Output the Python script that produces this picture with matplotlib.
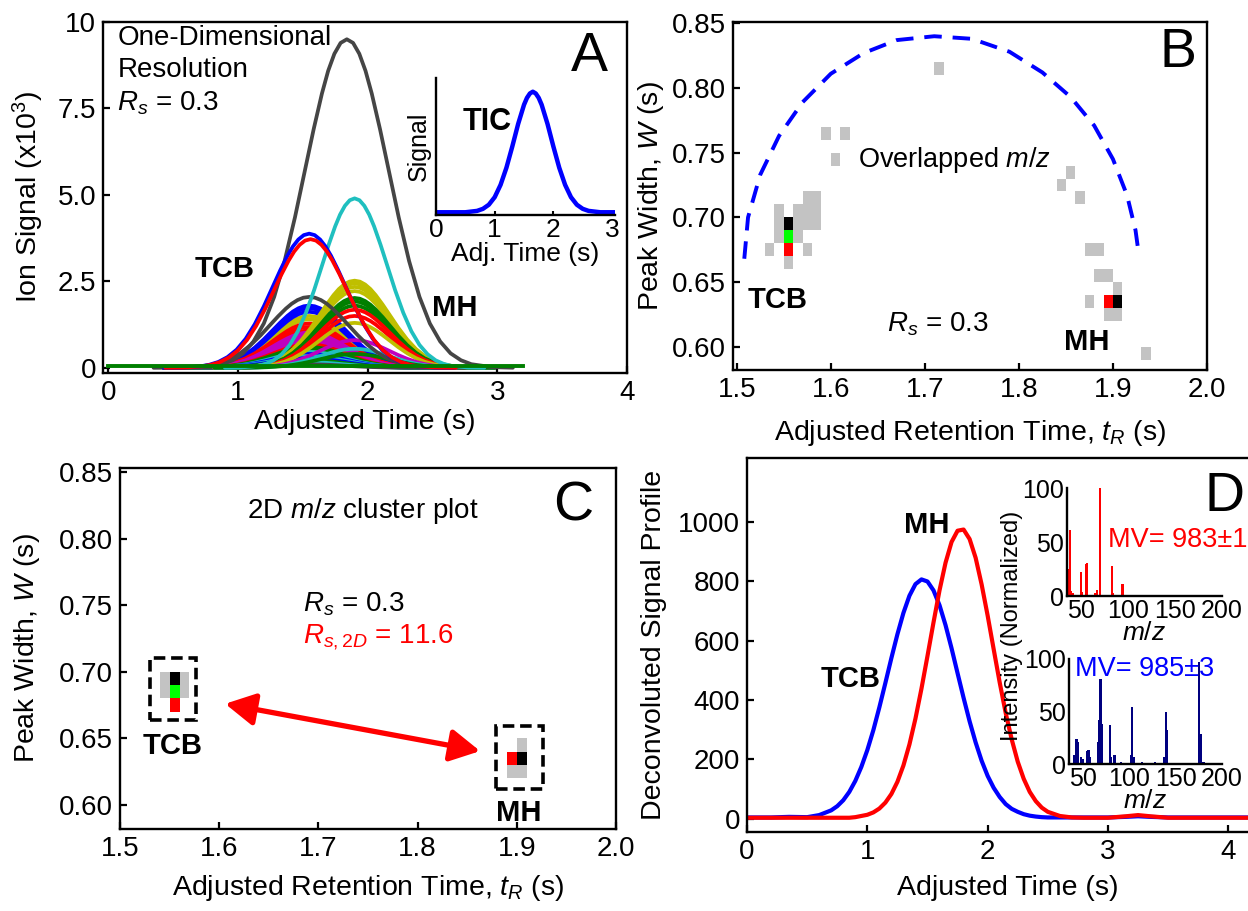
import numpy as np
import matplotlib
matplotlib.use("Agg")
import matplotlib.pyplot as plt

plt.rcParams.update({
    "font.family": ["Liberation Sans", "DejaVu Sans"],
    "mathtext.fontset": "custom",
    "mathtext.rm": "Liberation Sans",
    "mathtext.it": "Liberation Sans:italic",
    "mathtext.bf": "Liberation Sans:bold",
    "axes.linewidth": 1.7,
})

# ---------------- data ----------------
# panel A: common peak profile (sigma units)
PROFILE_Z = [-4.0, -3.5, -3.0, -2.75, -2.5, -2.25, -2.0, -1.75, -1.5, -1.25, -1.0, -0.8, -0.6, -0.45, -0.3, -0.15, 0.0,
             0.15, 0.3, 0.45, 0.6, 0.8, 1.0, 1.25, 1.5, 1.75, 2.0, 2.25, 2.5, 2.75, 3.0, 3.5, 4.0]
PROFILE = [0.0003, 0.002, 0.011, 0.023, 0.044, 0.080, 0.135, 0.216, 0.325, 0.458, 0.607, 0.726, 0.835, 0.904, 0.956, 0.989, 1.0,
           0.989, 0.956, 0.904, 0.835, 0.726, 0.607, 0.458, 0.325, 0.216, 0.135, 0.080, 0.044, 0.023, 0.011, 0.002, 0.0003]

# ion traces: apex time, apex height (x10^3), width (s), colour code
A_CENTERS = [1.55] * 22 + [1.90] * 13 + [1.55, 1.84, 1.90, 1.55, 1.56]
A_HEIGHTS = [1.50, 1.40, 1.80, 1.72, 1.62, 1.28, 1.18, 1.08, 1.02, 0.94, 0.86, 0.76, 0.68, 0.60, 0.52, 0.46,
             0.40, 0.34, 0.28, 0.22, 0.16, 0.10,
             2.52, 2.44, 2.34, 2.22, 2.02, 1.92, 1.80, 1.68, 1.50, 1.30, 0.80, 0.55, 0.40,
             2.05, 9.50, 4.90, 3.88, 3.72]
A_WIDTHS = [0.28] * 22 + [0.27] * 13 + [0.30, 0.32, 0.25, 0.28, 0.28]
A_COLORS = ["y", "y", "b", "b", "b", "r", "r", "r", "m", "m", "m", "m", "r", "g", "g", "c", "b", "c", "b", "g", "c", "k",
            "y", "y", "y", "y", "g", "g", "g", "r", "r", "y", "m", "c", "g",
            "k", "k", "c", "b", "r"]
A_BASE_T = [0.0, 3.2]
A_BASE_Y = [0.05, 0.05]

TIC_T = [0.0, 0.5, 0.7, 0.8, 0.9, 1.0, 1.1, 1.2, 1.3, 1.4, 1.5, 1.55, 1.6, 1.65, 1.7, 1.75, 1.8, 1.9,
         2.0, 2.1, 2.2, 2.3, 2.4, 2.5, 2.6, 2.8, 3.05]
TIC_Y = [0.02, 0.02, 0.03, 0.045, 0.075, 0.13, 0.22, 0.345, 0.50, 0.665, 0.805, 0.855, 0.887, 0.90, 0.887, 0.855,
         0.805, 0.665, 0.50, 0.345, 0.22, 0.13, 0.075, 0.045, 0.03, 0.02, 0.02]

# panel B: m/z clusters (tR, W) on a 0.01 s grid
B_GRAY_TR = [1.535, 1.545, 1.545, 1.545, 1.555, 1.565, 1.565, 1.565, 1.575, 1.575, 1.575, 1.575, 1.585, 1.585, 1.585,
             1.595, 1.615, 1.605, 1.715, 1.855, 1.845, 1.865, 1.875, 1.885, 1.885, 1.895, 1.905, 1.875, 1.895, 1.905, 1.935]
B_GRAY_W = [0.675, 0.705, 0.695, 0.685, 0.665, 0.705, 0.695, 0.685, 0.715, 0.705, 0.695, 0.675, 0.715, 0.705, 0.695,
            0.765, 0.765, 0.745, 0.815, 0.735, 0.725, 0.715, 0.675, 0.675, 0.655, 0.655, 0.645, 0.635, 0.625, 0.625, 0.595]
KEY_TR = [1.555, 1.555, 1.555, 1.895, 1.905]
KEY_W = [0.695, 0.685, 0.675, 0.635, 0.635]
KEY_COLORS = ["#000000", "#00ff00", "#ff0000", "#ff0000", "#000000"]
ARC_TR = [1.508, 1.512, 1.525, 1.545, 1.570, 1.600, 1.635, 1.670, 1.710, 1.750, 1.790, 1.825, 1.855, 1.880,
          1.900, 1.915, 1.924, 1.927]
ARC_W = [0.668, 0.700, 0.733, 0.763, 0.789, 0.811, 0.827, 0.837, 0.840, 0.838, 0.828, 0.812, 0.793, 0.771,
         0.745, 0.717, 0.690, 0.674]

# panel C: clusters after 2D selection
C_GRAY_TR = [1.545, 1.545, 1.565, 1.565, 1.905, 1.895, 1.905]
C_GRAY_W = [0.695, 0.685, 0.695, 0.685, 0.645, 0.625, 0.625]
C_BOX_TR = [1.530, 1.879]
C_BOX_W = [0.6635, 0.612]
C_BOX_SIZE = [0.047, 0.047]
ARROW_TR = [1.606, 1.863]
ARROW_W = [0.676, 0.6405]

# panel D: deconvoluted profiles
D_TIME = [0.0, 0.2, 0.35, 0.5, 0.6, 0.7, 0.75, 0.8, 0.85, 0.9, 0.95, 1.0, 1.05, 1.1, 1.15, 1.2, 1.25, 1.3, 1.35,
          1.4, 1.45, 1.5, 1.55, 1.6, 1.65, 1.7, 1.75, 1.8, 1.85, 1.9, 1.95, 2.0, 2.05, 2.1, 2.15, 2.2, 2.25, 2.3,
          2.35, 2.4, 2.45, 2.5, 2.6, 2.7, 2.8, 3.0, 3.15, 3.25, 3.35, 3.5, 3.8, 4.1, 4.4]
D_TCB = [4, 4, 6, 5, 12, 28, 42, 62, 90, 127, 174, 231, 298, 375, 457, 541, 621, 693, 751,
         790, 806, 799, 769, 719, 652, 574, 490, 407, 328, 257, 195, 144, 104, 73, 49, 33, 23, 15,
         10, 7, 5, 4, 4, 4, 4, 4, 6, 8, 6, 4, 4, 4, 4]
D_MH = [3, 3, 3, 3, 3, 3, 3, 3, 3, 5, 9, 13, 21, 34, 54, 83, 124, 179, 250,
        337, 438, 548, 661, 769, 862, 932, 970, 974, 942, 879, 789, 684, 571, 459, 356, 267, 192, 134,
        90, 59, 37, 23, 9, 4, 3, 3, 8, 12, 8, 3, 3, 3, 3]

MH_MZ = [37, 38, 39, 41, 50, 51, 55, 56, 65, 67, 70, 83, 84, 94, 95]
MH_INT = [25, 61, 5, 3, 22, 4, 30, 31, 3, 6, 100, 28, 3, 11, 5]
TCB_MZ = [41, 43, 45, 48, 50, 54, 56, 58, 66, 67, 69, 70, 79, 80, 84, 85, 91, 102, 103, 105, 114, 128,
          138, 140, 141, 175, 177, 180]
TCB_INT = [9, 24, 21, 7, 5, 12, 13, 7, 21, 42, 81, 38, 37, 7, 9, 7, 2, 9, 54, 7, 2, 2,
           7, 50, 32, 97, 29, 2]

COLORS = {"b": "#0000ff", "r": "#ff0000", "g": "#007f00", "c": "#1fbfbf", "m": "#bf00bf", "y": "#bfbf00", "k": "#454545"}

TICK_FS = 20
LABEL_FS = 20.5
TEXT_FS = 20

W, H = 1248, 911
fig = plt.figure(figsize=(W / 100, H / 100), dpi=100)


def px_axes(left, top, right, bottom):
    return fig.add_axes([left / W, 1 - bottom / H, (right - left) / W, (bottom - top) / H])


def style_main(ax):
    ax.tick_params(direction="in", length=5, width=1.6, labelsize=TICK_FS, top=False, right=False, pad=5)
    for s in ax.spines.values():
        s.set_linewidth(1.7)


def style_inset(ax, labelsize):
    ax.patch.set_visible(False)
    for s in ["top", "right"]:
        ax.spines[s].set_visible(False)
    for s in ["bottom", "left"]:
        ax.spines[s].set_linewidth(1.7)
    ax.tick_params(direction="in", length=0, labelsize=labelsize, pad=2)


# ---------------- A ----------------
axA = px_axes(103, 22, 627, 373)
z = np.array(PROFILE_Z)
prof = np.array(PROFILE)
for c, h, w, col in zip(A_CENTERS, A_HEIGHTS, A_WIDTHS, A_COLORS):
    axA.plot(c + w * z, h * prof, color=COLORS[col], lw=2.7, solid_capstyle="round")
axA.plot(A_BASE_T, A_BASE_Y, color=COLORS["g"], lw=2.8)
axA.set_xlim(-0.04, 4.0)
axA.set_ylim(-0.15, 10)
axA.set_xticks([0, 1, 2, 3, 4])
axA.set_yticks([0, 2.5, 5, 7.5, 10])
axA.set_yticklabels(["0", "2.5", "5.0", "7.5", "10"])
style_main(axA)
axA.set_xlabel("Adjusted Time (s)", fontsize=LABEL_FS, labelpad=2)
axA.set_ylabel("Ion Signal (x10$^3$)", fontsize=LABEL_FS, labelpad=8)
axA.text(0.07, 9.9, "One-Dimensional\nResolution\n$R_s$ = 0.3", fontsize=TEXT_FS, va="top", ha="left",
         linespacing=1.3)
axA.text(3.71, 9.0, "A", fontsize=40, ha="center", va="center")
axA.text(0.90, 2.85, "TCB", fontsize=21, fontweight="bold", ha="center", va="center")
axA.text(2.67, 1.72, "MH", fontsize=21, fontweight="bold", ha="center", va="center")

axT = px_axes(436, 78, 615, 215)
axT.plot(TIC_T, TIC_Y, color="#0000ff", lw=3.2)
axT.set_xlim(0, 3.05)
axT.set_ylim(0, 1)
axT.set_xticks([0, 1, 2, 3])
axT.set_yticks([])
style_inset(axT, 19)
axT.tick_params(axis="x", length=3, width=1.5)
axT.set_ylabel("Signal", fontsize=18, labelpad=4)
axT.set_xlabel("Adj. Time (s)", fontsize=19, labelpad=0)
axT.text(0.87, 0.68, "TIC", fontsize=22, fontweight="bold", ha="center", va="center")

# ---------------- B ----------------
axB = px_axes(733, 22, 1207, 370)
axB.bar(B_GRAY_TR, [0.01] * len(B_GRAY_TR), bottom=np.array(B_GRAY_W) - 0.005, width=0.01, color="#c3c3c3", linewidth=0)
axB.bar(KEY_TR, [0.01] * len(KEY_TR), bottom=np.array(KEY_W) - 0.005, width=0.01, color=KEY_COLORS, linewidth=0)
axB.plot(ARC_TR, ARC_W, color="#0000ff", lw=2.8, dashes=(4.5, 2.8))
axB.set_xlim(1.496, 2.0)
axB.set_ylim(0.582, 0.851)
axB.set_xticks([1.5, 1.6, 1.7, 1.8, 1.9, 2.0])
axB.set_xticklabels(["1.5", "1.6", "1.7", "1.8", "1.9", "2.0"])
axB.set_yticks([0.60, 0.65, 0.70, 0.75, 0.80, 0.85])
axB.set_yticklabels(["0.60", "0.65", "0.70", "0.75", "0.80", "0.85"])
style_main(axB)
axB.set_xlabel("Adjusted Retention Time, $t_R$ (s)", fontsize=LABEL_FS, labelpad=11)
axB.set_ylabel("Peak Width, $W$ (s)", fontsize=LABEL_FS, labelpad=4)
axB.text(1.629, 0.744, "Overlapped $m/z$", fontsize=19.5, ha="left", va="center")
axB.text(1.543, 0.636, "TCB", fontsize=21, fontweight="bold", ha="center", va="center")
axB.text(1.66, 0.617, "$R_s$ = 0.3", fontsize=TEXT_FS, ha="left", va="center")
axB.text(1.872, 0.604, "MH", fontsize=21, fontweight="bold", ha="center", va="center")
axB.text(1.969, 0.827, "B", fontsize=40, ha="center", va="center")

# ---------------- C ----------------
axC = px_axes(120, 468, 616, 829)
axC.bar(C_GRAY_TR, [0.01] * len(C_GRAY_TR), bottom=np.array(C_GRAY_W) - 0.005, width=0.01, color="#c3c3c3", linewidth=0)
axC.bar(KEY_TR, [0.01] * len(KEY_TR), bottom=np.array(KEY_W) - 0.005, width=0.01, color=KEY_COLORS, linewidth=0)
axC.bar(C_BOX_TR, C_BOX_SIZE, bottom=C_BOX_W, width=C_BOX_SIZE, align="edge", fill=False,
        edgecolor="black", linewidth=2.6, linestyle=(0, (3.2, 1.6)))
axC.annotate("", xy=(ARROW_TR[1], ARROW_W[1]), xytext=(ARROW_TR[0], ARROW_W[0]),
             arrowprops=dict(arrowstyle="<|-|>,head_length=1.2,head_width=0.65", color="#ff0000",
                             lw=3.8, shrinkA=0, shrinkB=0, mutation_scale=15))
axC.set_xlim(1.5, 2.0)
axC.set_ylim(0.582, 0.853)
axC.set_xticks([1.5, 1.6, 1.7, 1.8, 1.9, 2.0])
axC.set_xticklabels(["1.5", "1.6", "1.7", "1.8", "1.9", "2.0"])
axC.set_yticks([0.60, 0.65, 0.70, 0.75, 0.80, 0.85])
axC.set_yticklabels(["0.60", "0.65", "0.70", "0.75", "0.80", "0.85"])
style_main(axC)
axC.set_xlabel("Adjusted Retention Time, $t_R$ (s)", fontsize=LABEL_FS, labelpad=8)
axC.set_ylabel("Peak Width, $W$ (s)", fontsize=LABEL_FS, labelpad=12)
axC.text(1.745, 0.821, "2D $m/z$ cluster plot", fontsize=TEXT_FS, ha="center", va="center")
axC.text(1.684, 0.751, "$R_s$ = 0.3", fontsize=TEXT_FS, ha="left", va="center")
axC.text(1.684, 0.726, "$R_{s,2D}$ = 11.6", fontsize=TEXT_FS, ha="left", va="center", color="#ff0000")
axC.text(1.957, 0.824, "C", fontsize=40, ha="center", va="center")
axC.text(1.553, 0.644, "TCB", fontsize=21, fontweight="bold", ha="center", va="center")
axC.text(1.902, 0.594, "MH", fontsize=21, fontweight="bold", ha="center", va="center")

# ---------------- D ----------------
axD = px_axes(747, 458, 1268, 832)
axD.plot(D_TIME, D_TCB, color="#0000ff", lw=3.0)
axD.plot(D_TIME, D_MH, color="#ff0000", lw=3.0)
axD.set_xlim(0, 4.33)
axD.set_ylim(-45, 1215)
axD.set_xticks([0, 1, 2, 3, 4])
axD.set_yticks([0, 200, 400, 600, 800, 1000])
style_main(axD)
axD.set_xlabel("Adjusted Time (s)", fontsize=LABEL_FS, labelpad=7)
axD.set_ylabel("Deconvoluted Signal Profile", fontsize=LABEL_FS, labelpad=8)
axD.text(1.49, 990, "MH", fontsize=21, fontweight="bold", ha="center", va="center")
axD.text(0.86, 470, "TCB", fontsize=21, fontweight="bold", ha="center", va="center")
axD.text(3.97, 1085, "D", fontsize=40, ha="center", va="center")

axM = px_axes(1067, 488, 1222, 596)
axM.bar(MH_MZ, MH_INT, width=2.4, color="#ff0000", linewidth=0)
axM.set_xlim(35, 200)
axM.set_ylim(0, 100)
axM.set_xticks([50, 100, 150, 200])
axM.set_yticks([0, 50, 100])
style_inset(axM, 18)
axM.set_xlabel("$m/z$", fontsize=19, labelpad=-1)
axM.text(79, 52, "MV= 983\u00b11", fontsize=19.5, color="#ff0000", ha="left", va="center")

axN = px_axes(1069, 659, 1222, 764)
axN.bar(TCB_MZ, TCB_INT, width=2.4, color="#00007f", linewidth=0)
axN.set_xlim(35, 200)
axN.set_ylim(0, 100)
axN.set_xticks([50, 100, 150, 200])
axN.set_yticks([0, 50, 100])
style_inset(axN, 18)
axN.set_xlabel("$m/z$", fontsize=19, labelpad=-1)
axN.text(41, 90, "MV= 985\u00b13", fontsize=19.5, color="#0000ff", ha="left", va="center")

fig.text(1012 / W, 1 - 626 / H, "Intensity (Normalized)", rotation=90, fontsize=17, ha="center", va="center")

fig.savefig("out.png", dpi=100)
